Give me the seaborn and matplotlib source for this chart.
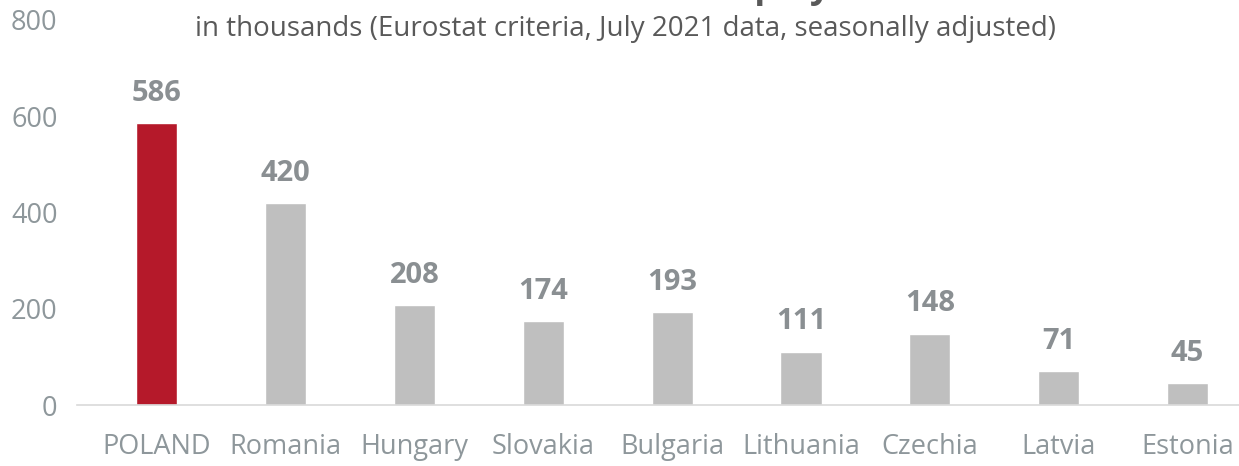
import pandas as pd
import matplotlib.pyplot as plt
import seaborn as sns

# Data
countries = ["POLAND", "Romania", "Hungary", "Slovakia", "Bulgaria",
             "Lithuania", "Czechia", "Latvia", "Estonia"]
unemployed = [586, 420, 208, 174, 193, 111, 148, 71, 45]
bar_colors = ["#B5192A"] + ["#BFBFBF"] * 8

df = pd.DataFrame({"country": countries, "value": unemployed})

sns.set_style("white")
plt.rcParams["font.family"] = ["Open Sans", "DejaVu Sans"]

fig = plt.figure(figsize=(12.39, 4.66), dpi=100)
ax = fig.add_axes([77 / 1239, 61 / 466, 1 - 77 / 1239, (405 - 20) / 466])

sns.barplot(data=df, x="country", y="value", hue="country",
            palette=bar_colors, width=0.32, saturation=1, legend=False, ax=ax)

ax.set_xlim(-0.62, 8.4)
ax.set_ylim(0, 800)
ax.set_yticks([0, 200, 400, 600, 800])
ax.set_xlabel("")
ax.set_ylabel("")

for s in ["top", "right", "left"]:
    ax.spines[s].set_visible(False)
ax.spines["bottom"].set_color("#D9D9D9")
ax.spines["bottom"].set_linewidth(1.2)

ax.tick_params(axis="both", length=0, labelsize=19.5, colors="#8E979B")
ax.tick_params(axis="x", pad=20)
ax.tick_params(axis="y", pad=14)

for i, v in enumerate(unemployed):
    ax.annotate(str(v), (i, v), xytext=(0, 11), textcoords="offset points",
                ha="center", va="bottom", fontsize=21, fontweight="bold",
                color="#8A8F92")

# title is mostly cut off at the top of the picture, as in the source image
fig.text(0.5 + 40 / 1239, 1 + 3 / 466, "Number of unemployed", ha="center", va="baseline",
         fontsize=26, fontweight="bold", color="#595959")
fig.text(625 / 1239, 1 - 29 / 466, "in thousands (Eurostat criteria, July 2021 data, seasonally adjusted)",
         ha="center", va="center", fontsize=20, color="#595959")

fig.savefig("out.png", dpi=100)
